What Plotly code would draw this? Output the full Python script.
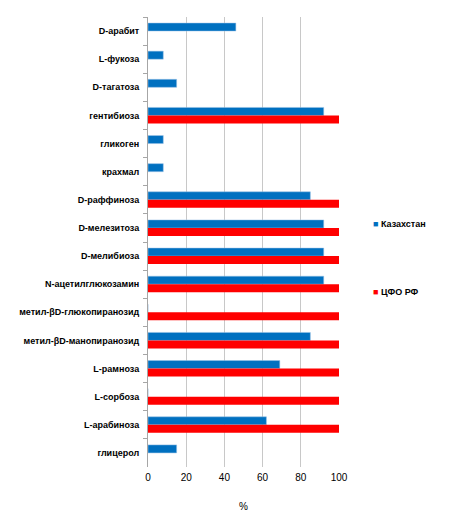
import plotly.graph_objects as go

categories = ["D-арабит", "L-фукоза", "D-тагатоза", "гентибиоза", "гликоген", "крахмал",
              "D-раффиноза", "D-мелезитоза", "D-мелибиоза", "N-ацетилглюкозамин",
              "метил-βD-глюкопиранозид", "метил-βD-манопиранозид", "L-рамноза",
              "L-сорбоза", "L-арабиноза", "глицерол"]
kazakhstan = [46, 8, 15, 92, 8, 8, 85, 92, 92, 92, 0, 85, 69, 0, 62, 15]
cfo_rf = [0, 0, 0, 100, 0, 0, 100, 100, 100, 100, 100, 100, 100, 100, 100, 0]
x_ticks = [0, 20, 40, 60, 80, 100]
series_names = ["Казахстан", "ЦФО РФ"]
series_colors = ["#0070C0", "#FF0000"]

W, H = 452, 518
L, R, T, B = 140, 121, 9, 59

fig = go.Figure()
fig.add_trace(go.Bar(y=categories, x=kazakhstan, orientation="h", name=series_names[0],
                     marker=dict(color=series_colors[0], line=dict(color="#9DC3E6", width=0.5)),
                     showlegend=False))
fig.add_trace(go.Bar(y=categories, x=cfo_rf, orientation="h", name=series_names[1],
                     marker=dict(color=series_colors[1], line=dict(width=0)),
                     showlegend=False))

# legend entries drawn as annotations positioned like the original
legend_y = [216, 284]
for name, col, ly in zip(series_names, series_colors, legend_y):
    fig.add_annotation(
        xref="paper", yref="paper",
        x=(363 - L) / (W - L - R), y=1 - (ly - T) / (H - T - B),
        xanchor="left", yanchor="middle", showarrow=False,
        text=f"<span style='color:{col}'>■</span> <b>{name}</b>",
        font=dict(size=9, family="Liberation Sans, Arial, sans-serif", color="black"),
    )

fig.update_layout(
    width=W, height=H,
    margin=dict(l=L, r=R, t=T, b=B),
    paper_bgcolor="white", plot_bgcolor="white",
    barmode="group", bargap=0.43, bargroupgap=0,
    font=dict(family="Liberation Sans, Arial, sans-serif", size=10, color="black"),
    showlegend=False,
    xaxis=dict(range=[0, 100], tickvals=x_ticks, showgrid=True, gridcolor="#C8C8C8",
               gridwidth=1, zeroline=False, showline=False, ticks="", automargin=False,
               ticklabelstandoff=3,
               tickfont=dict(size=10), title=dict(text="%", font=dict(size=10), standoff=20)),
    yaxis=dict(autorange="reversed", type="category", showline=True, linecolor="#A6A6A6",
               ticks="outside", ticklen=4, tickcolor="#A6A6A6", tickson="boundaries",
               automargin=False,
               tickfont=dict(size=9, family="Liberation Sans, Arial, sans-serif", weight="bold"),
               ticklabelstandoff=6),
)

fig.write_html("out.html")
